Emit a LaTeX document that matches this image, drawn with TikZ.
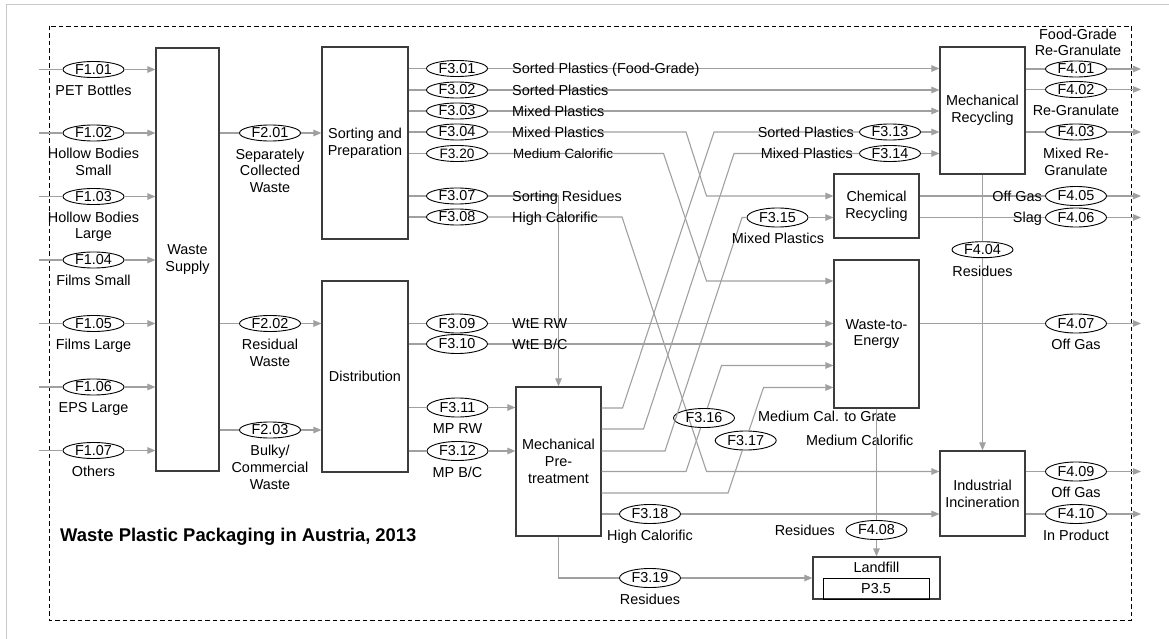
\documentclass[tikz,border=0pt]{standalone}
\usepackage{fontspec}
\setmainfont{Liberation Sans}
\usetikzlibrary{shapes.geometric,arrows.meta}
\definecolor{ln}{RGB}{160,160,160}
\definecolor{bx}{RGB}{60,60,60}
\definecolor{frm}{RGB}{200,200,200}
\tikzset{
  txt/.style={font=\fontsize{14.4}{16.8}\selectfont, inner sep=0pt},
  lbl/.style={txt, align=center, anchor=north},
  lblw/.style={txt, anchor=base west},
  lble/.style={txt, anchor=base east},
  box/.style={txt, draw=bx, line width=1.2pt, align=center},
  fl/.style={txt, ellipse, draw=black, line width=0.9pt, inner xsep=0pt, inner ysep=0pt, minimum width=61pt, minimum height=16pt},
  flb/.style={fl, minimum height=19pt},
  conn/.style={draw=ln, line width=1.1pt},
  arr/.style={conn, -{Triangle[length=8pt,width=6.5pt]}},
}
\begin{document}
\begin{tikzpicture}[x=1pt,y=-1pt]
\useasboundingbox (0,0) rectangle (1169,639);
\draw[frm, line width=1pt] (6,639) -- (6,5) -- (1169,5);
\draw[black, line width=0.9pt, dash pattern=on 4.5pt off 3pt] (49,26) rectangle (1131,620);
\coordinate (xin) at (39,0);
\coordinate (xout) at (1141,0);

% processes
\node[box, minimum width=63pt, minimum height=423pt] (ws) at (187.5,259.5) {Waste\\Supply};
\node[box, minimum width=86pt, minimum height=192pt] (sp) at (365,143) {Sorting and\\Preparation};
\node[box, minimum width=86pt, minimum height=191pt] (dist) at (365,376.5) {Distribution};
\node[box, minimum width=85pt, minimum height=149pt] (mpt) at (558.5,461.5) {Mechanical\\Pre-\\treatment};
\node[box, minimum width=85pt, minimum height=127pt] (mr) at (982.5,110.5) {Mechanical\\Recycling};
\node[box, minimum width=85pt, minimum height=64pt] (cr) at (876.5,206) {Chemical\\Recycling};
\node[box, minimum width=85pt, minimum height=148pt] (wte) at (876.5,334) {Waste-to-\\Energy};
\node[box, minimum width=85pt, minimum height=85pt] (ii) at (982.5,493.5) {Industrial\\Incineration};
\node[box, minimum width=127pt, minimum height=42pt] (lf) at (876.5,578) {};
\node[txt] (lft) at (876.5,567.5) {Landfill};
\node[box, line width=1pt, draw=black, minimum width=106pt, minimum height=21pt] (p35) at (876,588.5) {P3.5};

\node[txt, font=\fontsize{18.4}{22}\selectfont\bfseries, anchor=base west] (title) at (60,541.6) {Waste Plastic Packaging in Austria, 2013};

% F1 inputs
\node[fl] (f101) at (93.5,69.5) {F1.01};
\node[fl] (f102) at (93.5,133) {F1.02};
\node[fl] (f103) at (93.5,196.5) {F1.03};
\node[fl] (f104) at (93.5,260) {F1.04};
\node[fl] (f105) at (93.5,323.5) {F1.05};
\node[fl] (f106) at (93.5,387) {F1.06};
\node[fl] (f107) at (93.5,450.5) {F1.07};
\foreach \n in {f101,f102,f103,f104,f105,f106,f107}{
  \draw[conn] (\n -| xin) -- (\n);
  \draw[arr] (\n) -- (ws.west |- \n);
}
\node[lbl] (l101) at (93.5,84.5) {PET Bottles};
\node[lbl] (l102) at (93.5,148) {Hollow Bodies\\Small};
\node[lbl] (l103) at (93.5,211.5) {Hollow Bodies\\Large};
\node[lbl] (l104) at (93.5,275) {Films Small};
\node[lbl] (l105) at (93.5,338.5) {Films Large};
\node[lbl] (l106) at (93.5,402) {EPS Large};
\node[lbl] (l107) at (93.5,465.5) {Others};

% F2
\node[fl] (f201) at (270,133) {F2.01};
\node[fl] (f202) at (270,323.5) {F2.02};
\node[fl] (f203) at (270,430) {F2.03};
\draw[conn] (ws.east |- f201) -- (f201);
\draw[arr] (f201) -- (sp.west |- f201);
\draw[conn] (ws.east |- f202) -- (f202);
\draw[arr] (f202) -- (dist.west |- f202);
\draw[conn] (ws.east |- f203) -- (f203);
\draw[arr] (f203) -- (dist.west |- f203);
\node[lbl] (l201) at (270,148.5) {Separately\\Collected\\Waste};
\node[lbl] (l202) at (270,339) {Residual\\Waste};
\node[lbl] (l203) at (270,445) {Bulky/\\Commercial\\Waste};

% F3 from sorting
\node[fl] (f301) at (457,68.5) {F3.01};
\node[fl] (f302) at (457,90) {F3.02};
\node[fl] (f303) at (457,111) {F3.03};
\node[fl] (f304) at (457,132) {F3.04};
\node[fl, font=\fontsize{13.6}{16}\selectfont] (f320) at (457,153.5) {F3.20};
\node[fl] (f307) at (457,196) {F3.07};
\node[fl] (f308) at (457,217) {F3.08};
\foreach \n in {f301,f302,f303,f304,f320,f307,f308}{
  \draw[conn] (sp.east |- \n) -- (\n);
}
\draw[arr] (f301) -- (mr.west |- f301);
\draw[arr] (f302) -- (mr.west |- f302);
\draw[arr] (f303) -- (mr.west |- f303);
\coordinate (b304a) at (686,132);
\coordinate (b304b) at (706.5,196);
\draw[arr] (f304) -- (b304a) -- (b304b) -- (cr.west |- b304b);
\coordinate (b320a) at (663.5,153.5);
\coordinate (b320b) at (706.5,281);
\draw[arr] (f320) -- (b320a) -- (b320b) -- (wte.west |- b320b);
\draw[arr] (f307) -| (mpt.north);
\coordinate (b308a) at (622,217);
\coordinate (b308b) at (706.5,471.5);
\draw[arr] (f308) -- (b308a) -- (b308b) -- (ii.west |- b308b);
\node[lblw] (l301) at (512,73.7) {Sorted Plastics (Food-Grade)};
\node[lblw] (l302) at (512,95.2) {Sorted Plastics};
\node[lblw] (l303) at (512,116.2) {Mixed Plastics};
\node[lblw] (l304) at (512,137.2) {Mixed Plastics};
\node[lblw, font=\fontsize{13.4}{16}\selectfont] (l320) at (513,158.4) {Medium Calorific};
\node[lblw] (l307) at (512,201.2) {Sorting Residues};
\node[lblw] (l308) at (512,222.2) {High Calorific};

% F3 from distribution
\node[flb] (f309) at (457,323.5) {F3.09};
\node[flb] (f310) at (457,344) {F3.10};
\node[flb] (f311) at (457.5,407.5) {F3.11};
\node[flb] (f312) at (457.5,451) {F3.12};
\foreach \n in {f309,f310,f311,f312}{
  \draw[conn] (dist.east |- \n) -- (\n);
}
\draw[arr] (f309) -- (wte.west |- f309);
\draw[arr] (f310) -- (wte.west |- f310);
\draw[arr] (f311) -- (mpt.west |- f311);
\draw[arr] (f312) -- (mpt.west |- f312);
\node[lblw] (l309) at (512,328.7) {WtE RW};
\node[lblw] (l310) at (512,349.2) {WtE B/C};
\node[lbl] (l311) at (457.5,423.5) {MP RW};
\node[lbl] (l312) at (457.5,466.5) {MP B/C};

% F3 from mechanical pre-treatment
\node[fl] (f313) at (890,132) {F3.13};
\node[fl] (f314) at (890,153.5) {F3.14};
\node[flb] (f315) at (777.5,217.5) {F3.15};
\node[flb] (f316) at (704,418) {F3.16};
\node[flb] (f317) at (745.7,440.5) {F3.17};
\node[flb] (f318) at (650,514) {F3.18};
\node[flb] (f319) at (650,578) {F3.19};
\coordinate (b313a) at (622.5,408);
\coordinate (b313b) at (714,132);
\draw[conn] (mpt.east |- b313a) -- (b313a) -- (b313b) -- (f313);
\draw[arr] (f313) -- (mr.west |- f313);
\coordinate (b314a) at (643.5,429);
\coordinate (b314b) at (734,153.5);
\draw[conn] (mpt.east |- b314a) -- (b314a) -- (b314b) -- (f314);
\draw[arr] (f314) -- (mr.west |- f314);
\coordinate (b315a) at (665,451);
\coordinate (b315b) at (742,217.5);
\draw[conn] (mpt.east |- b315a) -- (b315a) -- (b315b) -- (f315);
\draw[arr] (f315) -- (cr.west |- f315);
\coordinate (b316a) at (686,471.5);
\coordinate (b316b) at (721.5,365.5);
\draw[conn] (mpt.east |- b316a) -- (b316a) -- (f316);
\draw[arr] (f316) -- (b316b) -- (wte.west |- b316b);
\coordinate (b317a) at (728,493);
\coordinate (b317b) at (763.5,387.5);
\draw[conn] (mpt.east |- b317a) -- (b317a) -- (f317);
\draw[arr] (f317) -- (b317b) -- (wte.west |- b317b);
\draw[conn] (mpt.east |- f318) -- (f318);
\draw[arr] (f318) -- (ii.west |- f318);
\draw[conn] (mpt.south) |- (f319);
\draw[arr] (f319) -- (lf.west |- f319);
\node[lble] (l313) at (854,137.2) {Sorted Plastics};
\node[lble] (l314) at (853,158.7) {Mixed Plastics};
\node[lbl] (l315) at (778,232.5) {Mixed Plastics};
\node[lblw] (l316) at (758,421.9) {Medium Cal. to Grate};
\node[lblw] (l317) at (806,445.9) {Medium Calorific};
\node[lbl] (l318) at (650,530) {High Calorific};
\node[lbl] (l319) at (650,594) {Residues};

% F4 outputs
\node[fl] (f401) at (1076,69) {F4.01};
\node[fl] (f402) at (1076,89.5) {F4.02};
\node[fl] (f403) at (1076,132) {F4.03};
\node[fl] (f404) at (982.5,249.7) {F4.04};
\node[flb] (f405) at (1076,196) {F4.05};
\node[flb] (f406) at (1076,217.5) {F4.06};
\node[flb] (f407) at (1076,323.5) {F4.07};
\node[flb] (f408) at (876.5,530) {F4.08};
\node[flb] (f409) at (1076,471.5) {F4.09};
\node[flb] (f410) at (1076,514) {F4.10};
\foreach \n in {f401,f402,f403}{
  \draw[conn] (mr.east |- \n) -- (\n);
  \draw[arr] (\n) -- (\n -| xout);
}
\foreach \n in {f405,f406}{
  \draw[conn] (cr.east |- \n) -- (\n);
  \draw[arr] (\n) -- (\n -| xout);
}
\draw[conn] (wte.east |- f407) -- (f407);
\draw[arr] (f407) -- (f407 -| xout);
\foreach \n in {f409,f410}{
  \draw[conn] (ii.east |- \n) -- (\n);
  \draw[arr] (\n) -- (\n -| xout);
}
\draw[conn] (mr.south) -- (f404);
\draw[arr] (f404) -- (ii.north);
\draw[conn] (wte.south) -- (f408);
\draw[arr] (f408) -- (lf.north);
\node[lbl] (l401) at (1078,28.5) {Food-Grade\\Re-Granulate};
\node[lbl] (l402) at (1076,105) {Re-Granulate};
\node[lbl] (l403) at (1076,148) {Mixed Re-\\Granulate};
\node[lbl] (l404) at (982.5,265.5) {Residues};
\node[lble] (l405) at (1042,201.2) {Off Gas};
\node[lble] (l406) at (1042,222.7) {Slag};
\node[lbl] (l407) at (1076,339) {Off Gas};
\node[lble] (l408) at (835,535.2) {Residues};
\node[lbl] (l409) at (1076,486.5) {Off Gas};
\node[lbl] (l410) at (1076,529.5) {In Product};
\end{tikzpicture}
\end{document}
